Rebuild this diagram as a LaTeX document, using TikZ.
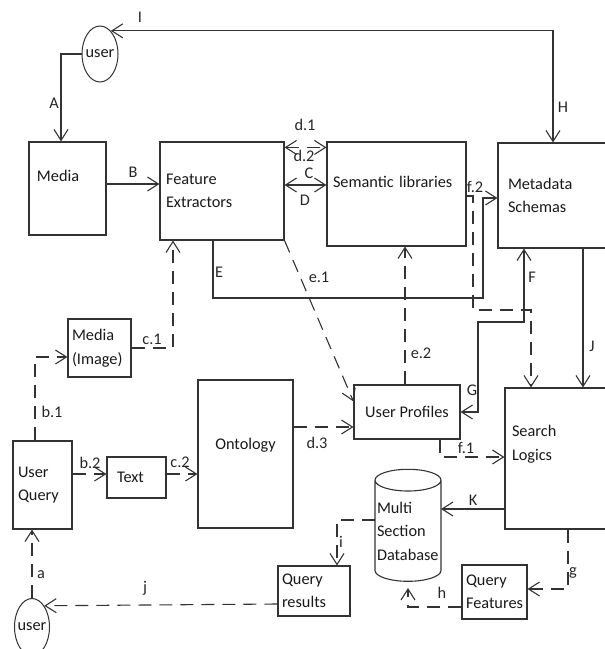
\documentclass[tikz,border=0pt]{standalone}
\usepackage{fontspec}
\setmainfont{Carlito}
\usepackage{tikz}
\usetikzlibrary{arrows.meta,positioning,shapes.geometric}
\definecolor{lncol}{HTML}{333333}

\begin{document}
\begin{tikzpicture}[x=1pt,y=-1pt,font=\fontsize{16.3}{23.5}\selectfont,
  >={Straight Barb[length=11pt,width=14pt]},
  blk/.style={draw=lncol,line width=1.1pt,align=left,inner xsep=0pt,inner ysep=0pt,text=black!90},
  usr/.style={draw=lncol,line width=1pt,ellipse,inner sep=-3pt,text=black!90},
  lbl/.style={inner sep=0pt,text=black!85},
  ar/.style={->,draw=lncol,line width=1.1pt},
  bar/.style={<->,draw=lncol,line width=1.1pt},
  dsh/.style={dash pattern=on 13pt off 8pt},
]
\useasboundingbox (0,0) rectangle (605,649);

% boxes
\node[usr,minimum width=36pt,minimum height=56pt] (user1) at (100,54) {user};
\node[blk,minimum width=77pt,minimum height=93pt,text width=61pt,text depth=25pt] (media) at (67.5,188.5) {Media};
\node[blk,minimum width=124pt,minimum height=98pt,text width=112pt] (feat) at (222,191) {Feature\\Extractors};
\node[blk,minimum width=139pt,minimum height=104pt,text width=127pt,text depth=24pt] (semlib) at (396.5,194) {Semantic libraries};
\node[blk,minimum width=110pt,minimum height=105pt,text width=90pt] (meta) at (553,195.5) {Metadata\\Schemas};
\node[blk,minimum width=63pt,minimum height=58pt,text width=55pt] (mimage) at (99.5,348) {Media\\(Image)};
\node[blk,minimum width=95pt,minimum height=148pt,align=center,text depth=21pt] (onto) at (245.5,454) {Ontology};
\node[blk,minimum width=106pt,minimum height=54pt,align=center] (uprof) at (407,412) {User Profiles};
\node[blk,minimum width=105pt,minimum height=141pt,text width=91pt,text depth=55pt] (search) at (557.5,458.5) {Search\\Logics};
\node[blk,minimum width=59pt,minimum height=88pt,text width=49pt] (uquery) at (42.5,485) {User\\Query};
\node[blk,minimum width=59pt,minimum height=41pt,text width=39pt] (txt) at (136.5,477.5) {Text};
\node[blk,cylinder,shape border rotate=90,aspect=0.35,minimum width=66pt,minimum height=112pt,
      text width=62pt] (db) at (408,531) {Multi\\Section\\Database};
\node[blk,minimum width=72pt,minimum height=50pt,text width=64pt] (qres) at (314,591) {Query\\results};
\node[blk,minimum width=65pt,minimum height=54pt,text width=57pt] (qfeat) at (494.5,592) {Query\\Features};
\node[usr,minimum width=35pt,minimum height=57pt] (user2) at (32,627) {user};

% solid connectors
\draw[bar] (user1.65) -| (meta.north);
\draw[ar] (user1.west) -| ([xshift=-6.5pt]media.north);
\draw[ar] ([yshift=4.5pt]media.east) -- ([yshift=4.5pt]media.east -| feat.west);
\draw[bar] ([yshift=6pt]feat.east) -- ([yshift=6pt]feat.east -| semlib.west);
\draw[ar] ([xshift=-9pt]feat.south) |- (483,298) |- ([yshift=-2.5pt]meta.west);
\draw[bar] (uprof.east) -| (478,322) -| ([xshift=-29pt]meta.south);
\draw[ar] ([xshift=30pt]meta.south) -- ([xshift=30pt]meta.south |- search.north);
\draw[ar] ([yshift=-50.5pt]search.west) -- ([xshift=33pt,yshift=22pt]db.center);

% dashed connectors
\draw[bar,dsh] ([yshift=-6pt]feat.north east) -- ([yshift=-6pt]feat.north east -| semlib.west);
\draw[ar,dsh] ([yshift=-2pt]semlib.east) -| (473,310) -| ([xshift=-26.5pt]search.north);
\draw[ar,dsh] (feat.south east) -- ([yshift=-17pt]uprof.north west);
\draw[ar,dsh] ([xshift=-2pt]uprof.north) -- ([xshift=-2pt]uprof.north |- semlib.south);
\draw[ar,dsh] ([yshift=27pt]onto.east) -- ([yshift=27pt]onto.east -| uprof.west);
\draw[ar,dsh] ([xshift=33pt]uprof.south) |- ([yshift=1.5pt]search.west);
\draw[ar,dsh] ([xshift=10.5pt]search.south) |- ([yshift=3pt]qfeat.east);
\draw[ar,dsh] ([yshift=-15pt]qfeat.west) -| ([yshift=-57pt]db.center);
\draw[ar,dsh] ([xshift=-33pt,yshift=11pt]db.center) -| ([xshift=23pt]qres.north);
\draw[ar,dsh] ([yshift=-13pt]qres.west) -- (user2.60);
\draw[ar,dsh] (user2.north) -- (user2.north |- uquery.south);
\draw[ar,dsh] ([xshift=-7.5pt]uquery.north) |- ([yshift=-9pt]mimage.west);
\draw[ar,dsh] (mimage.east) -| ([xshift=-49pt]feat.south);
\draw[ar,dsh] ([yshift=11pt]uquery.east) -- ([yshift=11pt]uquery.east -| txt.west);
\draw[ar,dsh] ([yshift=3.5pt]txt.east) -- ([yshift=3.5pt]txt.east -| onto.west);

% labels
\node[lbl] (lI) at (140,17) {I};
\node[lbl] (lA) at (54,103) {A};
\node[lbl] (lB) at (133,172) {B};
\node[lbl] (ld1) at (305,125) {d.1};
\node[lbl] (ld2) at (304,156) {d.2};
\node[lbl] (lC) at (309,173) {C};
\node[lbl] (lD) at (305,200) {D};
\node[lbl] (lH) at (563,107) {H};
\node[lbl] (lf2) at (475,187) {f.2};
\node[lbl] (lE) at (219,272) {E};
\node[lbl] (le1) at (319,277) {e.1};
\node[lbl] (lF) at (532,277) {F};
\node[lbl] (le2) at (421,353) {e.2};
\node[lbl] (lJ) at (592,346) {J};
\node[lbl] (lG) at (472,390) {G};
\node[lbl] (ld3) at (317,443) {d.3};
\node[lbl] (lf1) at (466,448) {f.1};
\node[lbl] (lc1) at (152,339) {c.1};
\node[lbl] (lb1) at (52,412) {b.1};
\node[lbl] (lb2) at (90,463) {b.2};
\node[lbl] (lc2) at (180,462) {c.2};
\node[lbl] (la) at (41,575) {a};
\node[lbl] (lj) at (145,588) {j};
\node[lbl] (lK) at (473,500) {K};
\node[lbl] (li) at (341,542) {i};
\node[lbl] (lg) at (573,573) {g};
\node[lbl] (lh) at (442,593) {h};
\end{tikzpicture}
\end{document}
